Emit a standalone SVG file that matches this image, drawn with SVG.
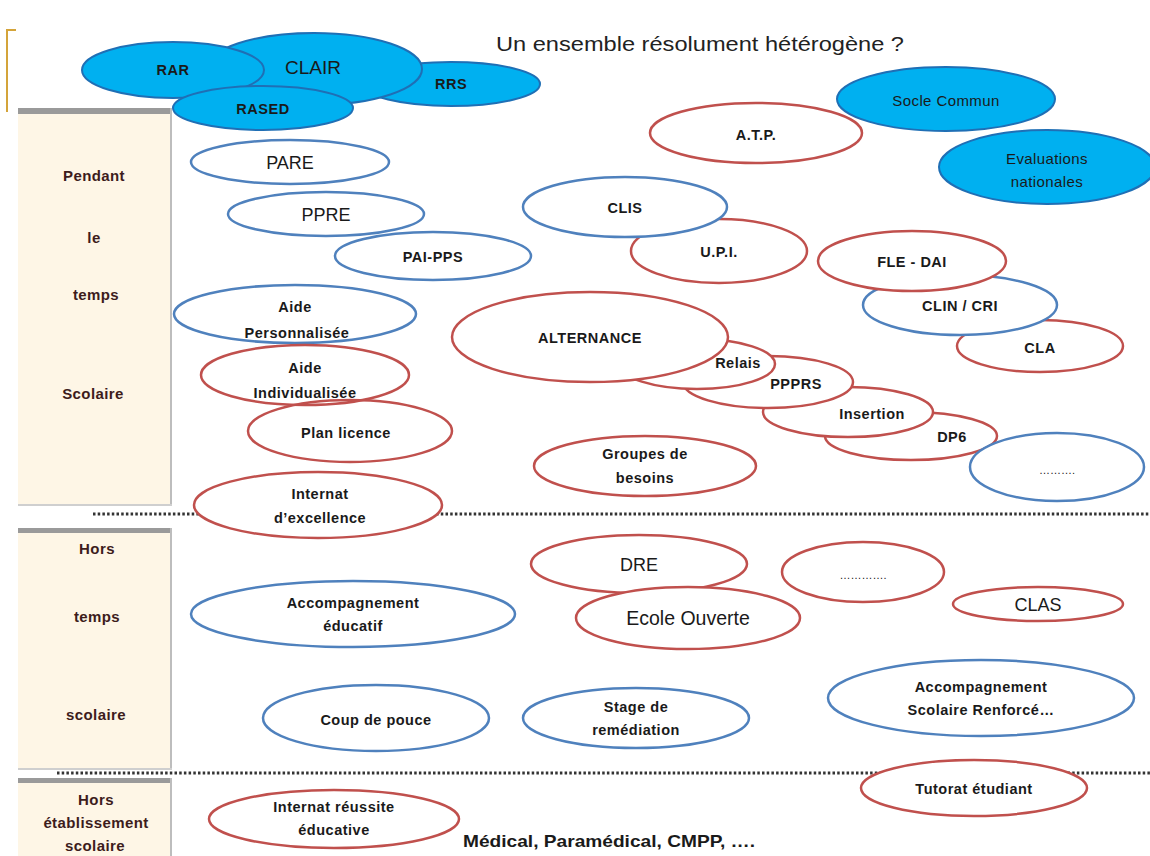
<svg xmlns="http://www.w3.org/2000/svg" width="1150" height="856" viewBox="0 0 1150 856">
<style>
text{font-family:"Liberation Sans",Arial,sans-serif;text-anchor:middle;fill:#1a1a1a}
.t{font-size:14.5px;font-weight:bold;letter-spacing:0.5px}
.b{font-size:18px}
.side{font-size:15px;font-weight:bold;fill:#3d1c1c;letter-spacing:0.4px}
.fill{fill:#00B0F0;stroke:#1F6FB5;stroke-width:2}
.blue{fill:#fff;stroke:#4F81BD;stroke-width:2.5}
.red{fill:#fff;stroke:#C0504D;stroke-width:2.5}
.nf{fill:none}
.panel{fill:#FEF6E6}
.dots{stroke:#333;stroke-width:3;stroke-dasharray:2.5 2.2;fill:none}
</style>
<rect width="1150" height="856" fill="#fff"/>
<g id="bracket"><path d="M16 30 H7 V112" fill="none" stroke="#D4A43A" stroke-width="2"/></g>
<g id="panels">
<rect class="panel" x="18" y="108" width="154" height="398"/>
<rect x="18" y="108" width="154" height="6" fill="#9a9a9a"/>
<rect x="170" y="108" width="2" height="398" fill="#bdbdbd"/>
<rect x="18" y="504" width="154" height="2" fill="#cfcfcf"/>
<rect class="panel" x="18" y="528" width="154" height="242"/>
<rect x="18" y="528" width="154" height="5" fill="#9a9a9a"/>
<rect x="170" y="528" width="2" height="242" fill="#bdbdbd"/>
<rect x="18" y="768" width="154" height="2" fill="#cfcfcf"/>
<rect class="panel" x="18" y="778" width="154" height="78"/>
<rect x="18" y="778" width="154" height="5" fill="#9a9a9a"/>
<rect x="170" y="778" width="2" height="78" fill="#bdbdbd"/>
<text class="side" x="94" y="181">Pendant</text>
<text class="side" x="94" y="243">le</text>
<text class="side" x="96" y="300">temps</text>
<text class="side" x="93" y="399">Scolaire</text>
<text class="side" x="97" y="554">Hors</text>
<text class="side" x="97" y="622">temps</text>
<text class="side" x="96" y="720">scolaire</text>
<text class="side" x="96" y="805">Hors</text>
<text class="side" x="96" y="828">établissement</text>
<text class="side" x="95" y="851">scolaire</text>
</g>
<g id="connectors">
<line class="dots" x1="93" y1="514" x2="1150" y2="514"/>
<line class="dots" x1="57" y1="773" x2="1150" y2="773"/>
</g>
<text id="title" x="700" y="51" style="font-size:20px;fill:#222" textLength="408" lengthAdjust="spacingAndGlyphs">Un ensemble résolument hétérogène ?</text>
<g id="n-rrs"><ellipse class="fill" cx="451" cy="84" rx="89" ry="22"/><text class="t" x="451" y="89">RRS</text></g>
<g id="n-clair"><ellipse class="fill" cx="314" cy="69" rx="108" ry="36"/><text class="b" x="313" y="74" style="font-size:19px">CLAIR</text></g>
<g id="n-rar"><ellipse class="fill" cx="173" cy="70" rx="91" ry="28"/><text class="t" x="173" y="75">RAR</text></g>
<g id="n-rased"><ellipse class="fill" cx="263" cy="108" rx="90" ry="22"/><text class="t" x="263" y="114">RASED</text></g>
<g id="n-socle"><ellipse class="fill" cx="946" cy="99" rx="109" ry="32"/><text x="946" y="106" style="font-size:15px;letter-spacing:0.4px">Socle Commun</text></g>
<g id="n-eval"><ellipse class="fill" cx="1047" cy="167" rx="108" ry="37"/><text x="1047" y="164" style="font-size:15px;letter-spacing:0.4px">Evaluations</text><text x="1047" y="187" style="font-size:15px;letter-spacing:0.4px">nationales</text></g>
<g id="n-paipps"><ellipse class="blue" cx="433" cy="256" rx="98" ry="24"/><text class="t" x="433" y="262">PAI-PPS</text></g>
<g id="n-pare"><ellipse class="blue" cx="290" cy="162" rx="99" ry="22"/><text class="b" x="290" y="169">PARE</text></g>
<g id="n-ppre"><ellipse class="blue" cx="326" cy="214" rx="98" ry="22"/><text class="b" x="326" y="221">PPRE</text></g>
<g id="n-aidep"><ellipse class="blue nf" cx="295" cy="314" rx="121" ry="29"/><text class="t" x="295" y="312">Aide</text><text class="t" x="297" y="338">Personnalisée</text></g>
<g id="n-aidei"><ellipse class="red nf" cx="305" cy="375" rx="104" ry="30"/><text class="t" x="305" y="373">Aide</text><text class="t" x="305" y="398">Individualisée</text></g>
<g id="n-plan"><ellipse class="red nf" cx="350" cy="431" rx="102" ry="31"/><text class="t" x="346" y="438">Plan licence</text></g>
<g id="n-internat"><ellipse class="red" cx="318" cy="505" rx="124" ry="33"/><text class="t" x="320" y="499">Internat</text><text class="t" x="320" y="523">d’excellence</text></g>
<g id="n-atp"><ellipse class="red" cx="756" cy="133" rx="106" ry="30"/><text class="t" x="756" y="140">A.T.P.</text></g>
<g id="n-upi"><ellipse class="red" cx="719" cy="251" rx="88" ry="32"/><text class="t" x="719" y="257">U.P.I.</text></g>
<g id="n-clis"><ellipse class="blue" cx="625" cy="207" rx="102" ry="30"/><text class="t" x="625" y="213">CLIS</text></g>
<g id="n-dp6"><ellipse class="red" cx="911" cy="436" rx="86" ry="24"/><text class="t" x="952" y="442">DP6</text></g>
<g id="n-insertion"><ellipse class="red" cx="848" cy="412" rx="85" ry="25"/><text class="t" x="872" y="419">Insertion</text></g>
<g id="n-ppprs"><ellipse class="red" cx="768" cy="382" rx="85" ry="26"/><text class="t" x="796" y="389">PPPRS</text></g>
<g id="n-relais"><ellipse class="red" cx="697" cy="364" rx="78" ry="25"/><text class="t" x="738" y="368">Relais</text></g>
<g id="n-alternance"><ellipse class="red" cx="590" cy="337" rx="138" ry="45"/><text class="t" x="590" y="343">ALTERNANCE</text></g>
<g id="n-groupes"><ellipse class="red" cx="645" cy="466" rx="111" ry="30"/><text class="t" x="645" y="459">Groupes de</text><text class="t" x="645" y="483">besoins</text></g>
<g id="n-cla"><ellipse class="red" cx="1040" cy="346" rx="83" ry="26"/><text class="t" x="1040" y="353">CLA</text></g>
<g id="n-clin"><ellipse class="blue" cx="960" cy="305" rx="97" ry="30"/><text class="t" x="960" y="311">CLIN / CRI</text></g>
<g id="n-fle"><ellipse class="red" cx="912" cy="261" rx="94" ry="30"/><text class="t" x="912" y="267">FLE - DAI</text></g>
<g id="n-etc1"><ellipse class="blue" cx="1057" cy="467" rx="87" ry="34"/><text x="1057" y="474" style="font-size:11px">……….</text></g>
<g id="n-acced"><ellipse class="blue" cx="353" cy="614" rx="162" ry="33"/><text class="t" x="353" y="608">Accompagnement</text><text class="t" x="353" y="631">éducatif</text></g>
<g id="n-dre"><ellipse class="red" cx="639" cy="564" rx="108" ry="29"/><text class="b" x="639" y="571">DRE</text></g>
<g id="n-ecole"><ellipse class="red" cx="688" cy="618" rx="112" ry="31"/><text class="b" x="688" y="625" style="font-size:19.5px">Ecole Ouverte</text></g>
<g id="n-etc2"><ellipse class="red" cx="863" cy="572" rx="81" ry="30"/><text x="863" y="579" style="font-size:11px">………….</text></g>
<g id="n-clas"><ellipse class="red" cx="1038" cy="604" rx="85" ry="17"/><text class="b" x="1038" y="611">CLAS</text></g>
<g id="n-coup"><ellipse class="blue" cx="376" cy="718" rx="113" ry="33"/><text class="t" x="376" y="725">Coup de pouce</text></g>
<g id="n-stage"><ellipse class="blue" cx="636" cy="718" rx="113" ry="30"/><text class="t" x="636" y="712">Stage de</text><text class="t" x="636" y="735">remédiation</text></g>
<g id="n-accsr"><ellipse class="blue" cx="981" cy="698" rx="153" ry="38"/><text class="t" x="981" y="692">Accompagnement</text><text class="t" x="981" y="715">Scolaire Renforcé…</text></g>
<g id="n-tutorat"><ellipse class="red" cx="974" cy="788" rx="113" ry="28"/><text class="t" x="974" y="794">Tutorat étudiant</text></g>
<g id="n-irE"><ellipse class="red" cx="334" cy="819" rx="125" ry="29"/><text class="t" x="334" y="812">Internat réussite</text><text class="t" x="334" y="835">éducative</text></g>
<text id="medical" x="609" y="847" style="font-size:17px;font-weight:bold" textLength="292" lengthAdjust="spacingAndGlyphs">Médical, Paramédical, CMPP, ….</text>
</svg>
